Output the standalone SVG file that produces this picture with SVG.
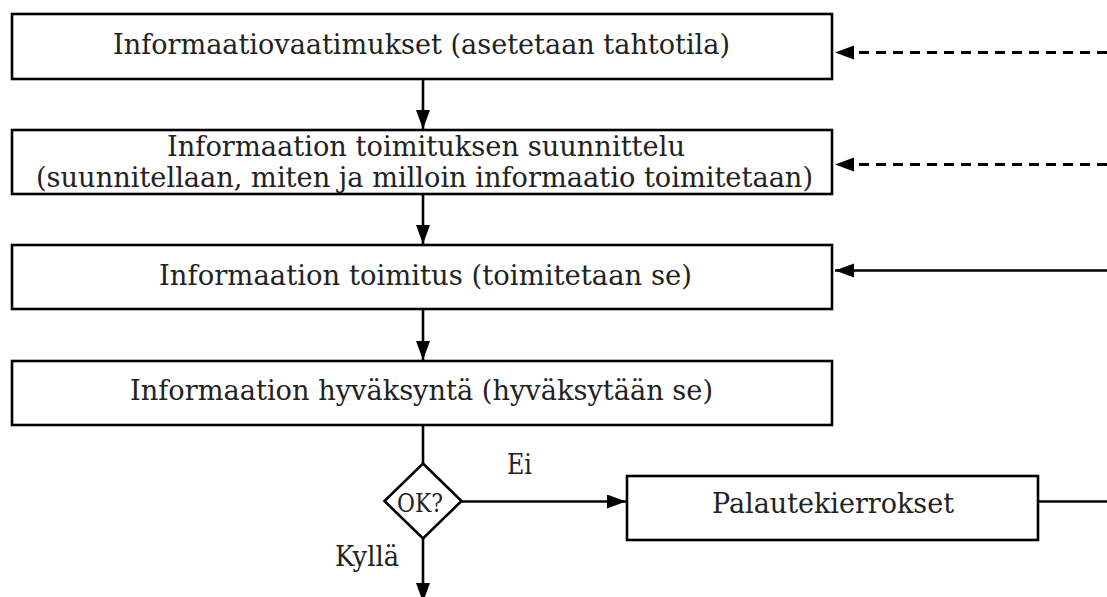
<svg xmlns="http://www.w3.org/2000/svg" width="1107" height="597" viewBox="0 0 1107 597">
<style>
.box{fill:#fff;stroke:#000;stroke-width:2.6}
.t{font-family:"DejaVu Serif","Liberation Serif",serif;font-size:27px;fill:#222;text-anchor:middle}
.s{font-family:"DejaVu Serif","Liberation Serif",serif;font-size:26px;fill:#222;text-anchor:middle}
.ln{fill:none;stroke:#000;stroke-width:2.6}
.dash{fill:none;stroke:#000;stroke-width:3;stroke-dasharray:10 7}
</style>
<defs>
<marker id="ah" markerUnits="userSpaceOnUse" markerWidth="20" markerHeight="15" refX="19" refY="7" orient="auto">
<path d="M0,0 L19,7 L0,14 z" fill="#000"/>
</marker>
</defs>
<g id="connectors">
<line class="ln" x1="423" y1="79" x2="423" y2="129" marker-end="url(#ah)"/>
<line class="ln" x1="423" y1="194" x2="423" y2="244" marker-end="url(#ah)"/>
<line class="ln" x1="423" y1="309" x2="423" y2="360" marker-end="url(#ah)"/>
<line class="ln" x1="423" y1="425" x2="423" y2="463"/>
<line class="ln" x1="462" y1="501.5" x2="626" y2="501.5" marker-end="url(#ah)"/>
<line class="ln" x1="423" y1="538" x2="423" y2="602" marker-end="url(#ah)"/>
<line class="ln" x1="1038" y1="501.5" x2="1107" y2="501.5"/>
<line class="dash" x1="1107" y1="52.5" x2="835" y2="52.5" marker-end="url(#ah)"/>
<line class="dash" x1="1107" y1="164.5" x2="835" y2="164.5" marker-end="url(#ah)"/>
<line class="ln" x1="1107" y1="270.5" x2="835" y2="270.5" marker-end="url(#ah)"/>
</g>
<g id="n1"><rect class="box" x="12" y="14" width="820" height="65"/><text class="t" x="421.5" y="54" textLength="617" lengthAdjust="spacingAndGlyphs">Informaatiovaatimukset (asetetaan tahtotila)</text></g>
<g id="n2"><rect class="box" x="12" y="130" width="820" height="64"/><text class="t" x="426" y="156" textLength="518" lengthAdjust="spacingAndGlyphs">Informaation toimituksen suunnittelu</text><text class="t" x="424.5" y="187" textLength="777" lengthAdjust="spacingAndGlyphs">(suunnitellaan, miten ja milloin informaatio toimitetaan)</text></g>
<g id="n3"><rect class="box" x="12" y="245" width="820" height="64"/><text class="t" x="425.5" y="285" textLength="533" lengthAdjust="spacingAndGlyphs">Informaation toimitus (toimitetaan se)</text></g>
<g id="n4"><rect class="box" x="12" y="361" width="820" height="64"/><text class="t" x="421.5" y="400" textLength="583" lengthAdjust="spacingAndGlyphs">Informaation hyväksyntä (hyväksytään se)</text></g>
<g id="n5"><path class="box" d="M423,463.5 L461.5,501 L423,538.5 L384.5,501 z"/><text class="s" x="420" y="512" textLength="46" lengthAdjust="spacingAndGlyphs">OK?</text></g>
<g id="n6"><rect class="box" x="627" y="476" width="411" height="64"/><text class="t" x="833" y="513" textLength="242" lengthAdjust="spacingAndGlyphs">Palautekierrokset</text></g>
<g id="labels"><text class="t" x="519.5" y="474" textLength="25" lengthAdjust="spacingAndGlyphs">Ei</text><text class="t" x="367" y="566" textLength="64" lengthAdjust="spacingAndGlyphs">Kyllä</text></g>
</svg>
